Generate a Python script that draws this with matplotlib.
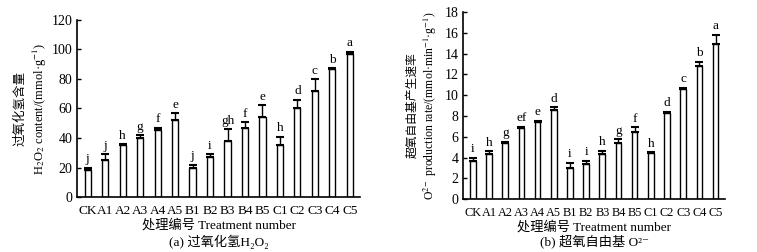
import numpy as np
import matplotlib
matplotlib.use("Agg")
import matplotlib.pyplot as plt

plt.rcParams['font.family'] = ['Liberation Serif', 'Noto Sans CJK SC', 'DejaVu Sans']
plt.rcParams['mathtext.fontset'] = 'stix'

treatments = ["CK", "A1", "A2", "A3", "A4", "A5", "B1", "B2", "B3", "B4",
              "B5", "C1", "C2", "C3", "C4", "C5"]

# (a) H2O2 content
h2o2 = [18, 25, 35, 40, 45.5, 52, 20, 27, 38, 46.5, 54.5, 35, 60, 72, 86.5, 97]
h2o2_err = [2, 4, 1, 2, 1.5, 5, 2, 2, 8, 4.5, 8, 6, 6, 8, 0.7, 1.5]
h2o2_sig = ["j", "j", "h", "g", "f", "e", "j", "i", "gh", "f", "e", "h",
            "d", "c", "b", "a"]

# (b) O2- production rate
o2 = [3.7, 4.3, 5.4, 6.85, 7.4, 8.55, 3.0, 3.35, 4.35, 5.4, 6.5, 4.4,
      8.3, 10.55, 12.85, 14.95]
o2_err = [0.3, 0.3, 0.1, 0.12, 0.12, 0.3, 0.5, 0.35, 0.3, 0.35, 0.4, 0.12,
          0.12, 0.15, 0.35, 0.85]
o2_sig = ["i", "h", "g", "ef", "e", "d", "i", "i", "h", "g", "f", "h",
          "d", "c", "b", "a"]

fig = plt.figure(figsize=(7.57, 2.52), dpi=100)
ax1 = fig.add_axes([0.102, 0.218, 0.374, 0.703])
ax2 = fig.add_axes([0.612, 0.210, 0.346, 0.742])


def draw(ax, vals, errs, sig, ymax, step, off, xfs):
    x = np.arange(len(vals))
    ax.bar(x, vals, width=0.35, color='white', edgecolor='black', linewidth=1.0)
    ax.errorbar(x, vals, yerr=[np.zeros(len(vals)), errs], fmt='none',
                ecolor='black', elinewidth=1.0, capsize=3, capthick=1.5)
    for xi, v, e, s in zip(x, vals, errs, sig):
        ax.text(xi, v + e + off, s, ha='center', va='bottom', fontsize=9.5)
    ax.set_xlim(-0.6, len(vals) - 0.4)
    ax.set_ylim(0, ymax)
    ax.set_yticks(np.arange(0, ymax + step / 2, step))
    ax.set_xticks(x)
    ax.set_xticklabels(treatments, fontsize=xfs)
    ax.tick_params(axis='y', direction='in', length=3, labelsize=10, width=1)
    ax.tick_params(axis='x', length=0, pad=6)
    ax.spines['top'].set_visible(False)
    ax.spines['right'].set_visible(False)
    ax.spines['left'].set_linewidth(1.2)
    ax.spines['bottom'].set_linewidth(1.2)


draw(ax1, h2o2, h2o2_err, h2o2_sig, 120, 20, 1.5, 9.5)
draw(ax2, o2, o2_err, o2_sig, 18, 2, 0.25, 8.8)

ax1.set_ylabel("过氧化氢含量\nH$_2$O$_2$ content/(mmol·g$^{-1}$)", fontsize=9,
               linespacing=1.3, labelpad=2)
ax2.set_ylabel("超氧自由基产生速率\nO$^{2-}$ production rate/(mmol·min$^{-1}$·g$^{-1}$)",
               fontsize=8.5, linespacing=1.3)

ax1.set_xlabel("处理编号 Treatment number", fontsize=9.5, labelpad=1)
ax2.set_xlabel("处理编号 Treatment number", fontsize=9.5, labelpad=1)

fig.text(0.289, 0.025, "(a) 过氧化氢H₂O₂", ha='center', fontsize=9.5)
fig.text(0.785, 0.025, "(b) 超氧自由基 O²⁻", ha='center', fontsize=9.5)

fig.savefig("out.png", dpi=100)
